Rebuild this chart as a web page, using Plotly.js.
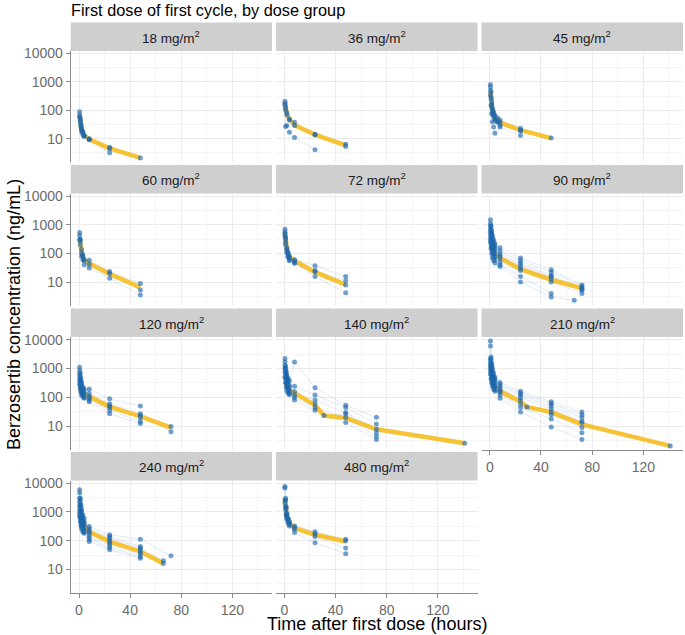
<!DOCTYPE html>
<html>
<head>
<meta charset="utf-8">
<script src="https://cdn.plot.ly/plotly-3.0.1.min.js"></script>
<style>
  html, body { margin: 0; padding: 0; background: #fff; }
  #chart { width: 685px; height: 635px; }
</style>
</head>
<body>
<div id="chart"></div>
<script>
// ── Data (concentrations in ng/mL, time in hours) ──
const DOSES = ["18", "36", "45", "60", "72", "90", "120", "140", "210", "240", "480"];

// 18 mg/m2
const t18 = [0.5, 1, 1.5, 2, 3, 4, 8, 24, 48];
const c18 = [
  [89, 53, 33, 21, 18, 12.6, 9.6, 5.0, 2.1],
  [68, 40, 26, 18, 14, 12, 9.2, 3.2, null],
  [60, 45, 30, 24, 17, 13, 10, 4.4, null],
];
const mt18 = [0.5, 1, 2, 4, 8, 24, 48];
const m18  = [65, 40, 20, 13.5, 9.6, 4.6, 2.1];

// 36 mg/m2
const t36 = [0.5, 1, 2, 4, 8, 24, 48];
const c36 = [
  [210, 124, 68, 46, 38, 14.5, 6.4],
  [175, 100, 82, 50, 29, 13.5, 5.3],
  [150, 27, 29, 17, 11, 4.1, null],
];
const mt36 = [0.5, 1, 2, 4, 8, 24, 48];
const m36  = [190, 120, 75, 48, 30, 14, 5.8];

// 45 mg/m2
const t45 = [0.5, 1, 1.5, 2, 3, 4, 6, 8, 24, 48];
const c45 = [
  [810, 445, 200, 118, 89, 68, 55, 46, 23.5, 10.5],
  [660, 297, 160, 100, 70, 52, 40, 38, 18.6, null],
  [500, 250, 130, 80, 60, 45, 38, 30, 20, null],
  [350, 150, 75, 40, 26, 15.5, null, 26, 13, null],
];
const mt45 = [0.5, 1, 2, 4, 8, 24, 48];
const m45  = [450, 250, 100, 55, 37, 20, 10.5];

// 60 mg/m2
const t60 = [0.5, 1, 2, 3, 4, 8, 24, 48];
const c60 = [
  [540, 310, 138, 90, 62, 58, 23.5, 8.9],
  [420, 270, 105, 80, 55, 42, 20, 5.3],
  [300, 200, 80, 60, 40, 31, 13.5, 3.5],
];
const mt60 = [0.5, 1, 2, 4, 8, 24, 48];
const m60  = [330, 230, 105, 58, 44, 19, 6.5];

// 72 mg/m2
const t72 = [0.5, 1, 2, 3, 4, 8, 24, 48];
const c72 = [
  [700, 355, 158, 105, 80, 60, 37, 15.5],
  [560, 300, 140, 95, 69, 55, 25, 11],
  [480, 240, 120, 80, 60, 47, 23, 7.8],
  [400, 200, 105, 75, 55, 45, 15.5, 4.2],
];
const mt72 = [0.5, 1, 2, 4, 8, 24, 48];
const m72  = [550, 300, 140, 75, 55, 22, 8];

// 90 mg/m2
const t90 = [0.5, 1, 1.5, 2, 3, 4, 8, 24, 48, 66, 72];
const c90 = [
  [1480, 900, 600, 420, 300, 220, 158, 69, 27, null, 7.8],
  [1100, 700, 480, 350, 240, 180, 120, 55, 22, null, 7],
  [900, 550, 380, 270, 190, 150, 95, 45, 17, null, 6],
  [700, 420, 300, 210, 150, 120, 80, 38, 15.5, null, 5.5],
  [550, 330, 230, 160, 120, 95, 65, 30, 13, null, 5.3],
  [420, 260, 180, 130, 95, 75, 50, 25, 10, null, 4],
  [320, 200, 140, 100, 75, 60, 40, 15.5, 4, null, null],
  [250, 150, 100, 70, 55, 46, 35, 10, 3, 2.3, null],
];
const mt90 = [0.5, 2, 4, 8, 24, 48, 72];
const m90  = [190, 140, 100, 69, 28, 12, 6];

// 120 mg/m2
const t120 = [0.5, 1, 1.5, 2, 3, 4, 8, 24, 48, 72];
const c120 = [
  [1100, 700, 450, 320, 230, 200, 195, 89, 50, null],
  [850, 550, 380, 270, 200, 170, 140, 60, 27, 9.8],
  [650, 420, 300, 220, 170, 140, 110, 50, 24, 6.5],
  [500, 330, 240, 180, 140, 120, 95, 45, 20, null],
  [380, 260, 190, 150, 120, 100, 80, 35, 15, null],
  [280, 200, 150, 120, 107, 94, 71, 27, 12.6, null],
];
const mt120 = [0.5, 1, 2, 4, 8, 24, 48, 72];
const m120  = [220, 180, 150, 130, 107, 47, 22, 9];

// 140 mg/m2
const t140 = [0.5, 1, 1.5, 2, 3, 4, 8, 24, 31, 48, 72, 141];
const c140 = [
  [2200, 1200, 800, 600, 450, 380, 1670, 215, null, 54, 20.5, null],
  [1700, 1000, 650, 480, 350, 260, 245, 120, null, 45, 12, null],
  [1300, 800, 520, 380, 280, 210, 160, 82, null, 30, 7.9, 2.6],
  [1000, 600, 400, 300, 220, 170, 120, 60, 23.6, 27, 6, null],
  [750, 450, 300, 220, 170, 140, 100, 45, null, 20, 4.5, null],
  [500, 330, 230, 170, 140, 123, 82, 36, null, 13.5, 3.5, null],
];
const mt140 = [0.5, 2, 4, 8, 24, 31, 48, 72, 141];
const m140  = [350, 230, 170, 140, 54, 23.6, 19.5, 7.9, 2.6];

// 210 mg/m2
const t210 = [0.5, 1, 1.5, 2, 3, 4, 8, 24, 29, 48, 72, 141];
const c210 = [
  [9000, 2500, 1500, 1000, 700, 500, 325, 162, null, 71, 31, null],
  [6000, 2000, 1200, 800, 550, 420, 280, 140, null, 60, 25, null],
  [2200, 1500, 1000, 700, 480, 360, 240, 120, null, 50, 20, null],
  [1800, 1200, 800, 550, 400, 300, 200, 100, null, 40, 15, null],
  [1400, 950, 650, 450, 330, 250, 170, 80, 47, 31, 13.5, 2.1],
  [1100, 750, 520, 380, 280, 220, 150, 60, null, 25, 9, null],
  [850, 600, 420, 310, 230, 180, 120, 45, null, 18, 6, null],
  [650, 450, 330, 250, 190, 162, 94, 31, null, 9.5, 3.5, null],
];
const mt210 = [0.5, 2, 4, 8, 24, 29, 48, 72, 141];
const m210  = [450, 330, 250, 162, 71, 47, 31, 11.7, 2.1];

// 240 mg/m2
const t240 = [0.5, 1, 1.5, 2, 3, 4, 8, 24, 48, 66, 72];
const c240 = [
  [5900, 3000, 1800, 1200, 800, 600, 310, 160, 112, null, 29.6],
  [4500, 2500, 1500, 1000, 650, 460, 260, 140, 62, null, null],
  [3000, 1800, 1100, 750, 520, 400, 220, 120, 55, 20, null],
  [2200, 1400, 900, 620, 430, 340, 190, 100, 48, 16, null],
  [1600, 1000, 680, 480, 350, 280, 160, 85, 40, null, null],
  [1200, 780, 540, 390, 290, 230, 130, 70, 34, null, null],
  [900, 600, 420, 310, 240, 200, 110, 58, 28, null, null],
  [700, 470, 340, 260, 200, 182, 93, 48, 24.5, null, null],
];
const mt240 = [0.5, 1, 2, 4, 8, 24, 48, 66];
const m240  = [1200, 700, 450, 330, 205, 93, 42, 16];

// 480 mg/m2
const t480 = [0.5, 1, 1.5, 2, 3, 4, 8, 24, 48];
const c480 = [
  [7600, 3000, 1500, 900, 600, 460, 325, 205, 112],
  [6700, 2600, 1300, 800, 550, 420, 290, 170, 100],
  [2500, 1500, 900, 650, 450, 355, 250, 140, 55],
  [2000, 1200, 750, 550, 400, 320, 190, 85, 35],
];
const mt480 = [0.5, 1, 2, 4, 8, 24, 48];
const m480  = [3000, 1350, 650, 420, 270, 160, 93];

const X_TICKS = [0, 40, 80, 120];
const X_MINOR = [20, 60, 100, 140];
const Y_TICKS = [10, 100, 1000, 10000];
const Y_MINOR = [3.162, 31.62, 316.2, 3162];

// ── Panel table built from the arrays above ─────────────────────
const PANELS = [
  { t: t18,  c: c18,  mt: mt18,  m: m18  },
  { t: t36,  c: c36,  mt: mt36,  m: m36  },
  { t: t45,  c: c45,  mt: mt45,  m: m45  },
  { t: t60,  c: c60,  mt: mt60,  m: m60  },
  { t: t72,  c: c72,  mt: mt72,  m: m72  },
  { t: t90,  c: c90,  mt: mt90,  m: m90  },
  { t: t120, c: c120, mt: mt120, m: m120 },
  { t: t140, c: c140, mt: mt140, m: m140 },
  { t: t210, c: c210, mt: mt210, m: m210 },
  { t: t240, c: c240, mt: mt240, m: m240 },
  { t: t480, c: c480, mt: mt480, m: m480 },
];

// ── Geometry (pixels) ───────────────────────────────────────────
const W = 685, H = 635;
const COL_X = [[70.7, 272], [276, 477.5], [481.5, 683]];
const ROW_Y = [[51, 162], [193.5, 305.5], [337, 450], [480.5, 593]];
const STRIP_H = 28.5;

const POINT_COLOR = "rgba(28,102,172,0.62)";
const SUBJ_COLOR  = "rgba(90,140,200,0.28)";
const MED_COLOR   = "rgb(245,190,38)";
const GRID_MAJOR  = "#ebebeb";
const GRID_MINOR  = "#f4f4f4";
const AXIS_GREY   = "#8a8a8a";

const traces = [];
const layout = {
  width: W, height: H,
  margin: { l: 0, r: 0, t: 0, b: 0 },
  paper_bgcolor: "#fff", plot_bgcolor: "#fff",
  showlegend: false,
  font: { family: "Liberation Sans, Arial, sans-serif", size: 13, color: "#595959" },
  shapes: [],
  annotations: [],
};

PANELS.forEach((p, i) => {
  const row = Math.floor(i / 3), col = i % 3;
  const sfx = i === 0 ? "" : String(i + 1);
  const xs = "x" + sfx, ys = "y" + sfx;
  const left = col === 0;
  const bottom = i >= 8;

  // individual subject lines
  p.c.forEach(subj => {
    traces.push({
      x: p.t, y: subj, xaxis: xs, yaxis: ys,
      type: "scatter", mode: "lines", connectgaps: true,
      line: { color: SUBJ_COLOR, width: 0.7 },
      hoverinfo: "skip",
    });
  });

  // typical / median profile
  traces.push({
    x: p.mt, y: p.m, xaxis: xs, yaxis: ys,
    type: "scatter", mode: "lines",
    line: { color: MED_COLOR, width: 4.5 },
    opacity: 0.92,
    hoverinfo: "skip",
  });

  // observed points
  const px = [], py = [];
  p.c.forEach(subj => subj.forEach((v, k) => {
    if (v != null) { px.push(p.t[k]); py.push(v); }
  }));
  traces.push({
    x: px, y: py, xaxis: xs, yaxis: ys,
    type: "scatter", mode: "markers",
    marker: { color: POINT_COLOR, size: 5 },
    hovertemplate: "%{x} h<br>%{y} ng/mL<extra></extra>",
  });

  layout["xaxis" + sfx] = {
    domain: [COL_X[col][0] / W, COL_X[col][1] / W],
    anchor: ys,
    range: [-6.5, 151],
    tickmode: "array", tickvals: X_TICKS,
    showticklabels: bottom,
    ticks: bottom ? "outside" : "", ticklen: 4, tickcolor: AXIS_GREY,
    showline: bottom, linecolor: AXIS_GREY, linewidth: 1,
    showgrid: true, gridcolor: GRID_MAJOR, gridwidth: 1,
    minor: { tickmode: "array", tickvals: X_MINOR, showgrid: true, gridcolor: GRID_MINOR, gridwidth: 1 },
    zeroline: false,
    tickfont: { size: 14, color: "#6b6b6b" },
  };
  layout["yaxis" + sfx] = {
    domain: [1 - ROW_Y[row][1] / H, 1 - ROW_Y[row][0] / H],
    anchor: xs,
    type: "log",
    range: [0.18, 4.09],
    tickmode: "array", tickvals: Y_TICKS, ticktext: Y_TICKS.map(String),
    showticklabels: left,
    ticks: left ? "outside" : "", ticklen: 4, tickcolor: AXIS_GREY,
    showline: left, linecolor: AXIS_GREY, linewidth: 1,
    showgrid: true, gridcolor: GRID_MAJOR, gridwidth: 1,
    minor: { tickmode: "array", tickvals: Y_MINOR, showgrid: true, gridcolor: GRID_MINOR, gridwidth: 1 },
    zeroline: false,
    tickfont: { size: 14, color: "#6b6b6b" },
  };

  // facet strip
  const sy0 = ROW_Y[row][0] - STRIP_H, sy1 = ROW_Y[row][0];
  layout.shapes.push({
    type: "rect", xref: "paper", yref: "paper", layer: "below",
    x0: COL_X[col][0] / W, x1: COL_X[col][1] / W,
    y0: 1 - sy1 / H, y1: 1 - sy0 / H,
    fillcolor: "#cfcfcf", line: { width: 0 },
  });
  layout.annotations.push({
    xref: "paper", yref: "paper",
    x: (COL_X[col][0] + COL_X[col][1]) / 2 / W,
    y: 1 - (sy0 + sy1) / 2 / H,
    text: DOSES[i] + " mg/m<sup>2</sup>",
    showarrow: false, xanchor: "center", yanchor: "middle",
    font: { size: 13.5, color: "#1a1a1a" },
  });
});

// titles
layout.annotations.push(
  {
    xref: "paper", yref: "paper", x: 69 / W, y: 1 - 10 / H,
    text: "First dose of first cycle, by dose group",
    showarrow: false, xanchor: "left", yanchor: "middle",
    font: { size: 16.3, color: "#000" },
  },
  {
    xref: "paper", yref: "paper", x: 14 / W, y: 1 - 315 / H,
    text: "Berzosertib concentration (ng/mL)", textangle: -90,
    showarrow: false, xanchor: "center", yanchor: "middle",
    font: { size: 18, color: "#000" },
  },
  {
    xref: "paper", yref: "paper", x: 377 / W, y: 1 - 624 / H,
    text: "Time after first dose (hours)",
    showarrow: false, xanchor: "center", yanchor: "middle",
    font: { size: 18, color: "#000" },
  }
);

Plotly.newPlot("chart", traces, layout, { displayModeBar: false, staticPlot: true });
</script>
</body>
</html>
